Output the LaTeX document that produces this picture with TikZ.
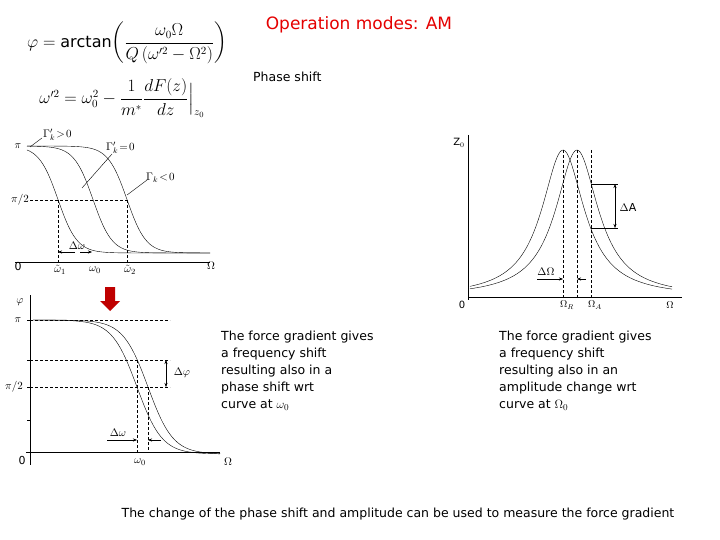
\documentclass[tikz,border=0pt]{standalone}
\usepackage{amsmath}
\usepackage{fontspec}
\setmainfont{DejaVu Sans}
\usetikzlibrary{arrows.meta}
\begin{document}
\begin{tikzpicture}[x=1pt,y=-1pt,
  txt/.style={font=\fontsize{12.5}{17}\selectfont,align=left,inner sep=0,anchor=north west},
  lbl/.style={font=\fontsize{11}{12}\selectfont,inner sep=1pt},
  dsh/.style={densely dashed,thin},
  crv/.style={thin,black},
  ar/.style={-{Stealth[length=4pt,width=3pt]},thin}]
\useasboundingbox[fill=white] (0,0) rectangle (720,540);
% title
\node[font=\fontsize{17}{20}\selectfont,text=red!90!black] (title) at (359,25) {Operation modes: AM};
\node[txt,anchor=west] (ps) at (253,77) {Phase shift};
% formulas
\node[font=\fontsize{16}{19}\selectfont,inner sep=0] (f1) at (127,43) {$\varphi=\arctan\!\left(\dfrac{\omega_0\Omega}{Q\left(\omega'^2-\Omega^2\right)}\right)$};
\node[font=\fontsize{16}{19}\selectfont,inner sep=0] (f2) at (122,98) {$\omega'^2=\omega_0^2-\dfrac{1}{m^*}\dfrac{dF(z)}{dz}\Big|_{z_0}$};
% ---- top-left plot
\draw[thin] (15,262) -- (210,262);
\foreach \c in {58,93,127}
  \draw[crv,domain=27:210,samples=80] plot (\x,{146+107*(0.5+0.5*tanh((\x-\c)/19))});
\draw[dsh] (30,200) -- (127,200);
\draw[dsh] (58,200) -- (58,262);
\draw[dsh] (127,200) -- (127,262);
\draw[ar] (75,252) -- (58,252);
\draw[ar] (80,252) -- (92,252);
\node[lbl] (pi1) at (18,146) {$\pi$};
\node[lbl] (pih1) at (20,200) {$\pi/2$};
\node[lbl] (z1) at (18,266) {0};
\node[lbl] (w1) at (60,270) {$\tilde\omega_1$};
\node[lbl] (w0) at (95,270) {$\omega_0$};
\node[lbl] (w2) at (130,270) {$\tilde\omega_2$};
\node[lbl] (Om1) at (211,266) {$\Omega$};
\node[lbl] (dw1) at (77,246) {$\Delta\omega$};
\node[lbl,anchor=west] (g1) at (42,135) {$\Gamma'_k\!>\!0$};
\node[lbl,anchor=west] (g2) at (105,148) {$\Gamma'_k\!=\!0$};
\node[lbl,anchor=west] (g3) at (145,178) {$\Gamma_k\!<\!0$};
\draw[thin] (42,138) -- (30,147);
\draw[thin] (112,154) -- (82,188);
\draw[thin] (147,180) -- (127,195);
% red arrow
\fill[red!75!black] (105,287) -- (115,287) -- (115,301) -- (120,301) -- (110,311) -- (100,301) -- (105,301) -- cycle;
% ---- bottom-left plot
\draw[thin] (30,295) -- (30,465);
\draw[thin] (26,452) -- (220,452);
\foreach \t in {320,360,387,420} \draw[thin] (27,\t) -- (30,\t);
\foreach \c in {137,148}
  \draw[crv,domain=33:220,samples=80] plot (\x,{320+134*(0.5+0.5*tanh((\x-\c)/25))});
\draw[dsh] (30,320) -- (170,320);
\draw[dsh] (30,360) -- (170,360);
\draw[dsh] (30,387) -- (170,387);
\draw[dsh] (137,360) -- (137,452);
\draw[dsh] (148,387) -- (148,452);
\draw[{Stealth[length=4pt,width=3pt]}-{Stealth[length=4pt,width=3pt]},thin] (166,360) -- (166,387);
\draw[ar] (107,440) -- (137,440);
\draw[ar] (161,440) -- (148,440);
\node[lbl] (phi2) at (20,302) {$\varphi$};
\node[lbl] (pi2) at (18,320) {$\pi$};
\node[lbl] (pih2) at (14,387) {$\pi/2$};
\node[lbl] (z2) at (22,460) {0};
\node[lbl] (w02) at (140,462) {$\omega_0$};
\node[lbl] (Om2) at (228,462) {$\Omega$};
\node[lbl] (dphi) at (182,373) {$\Delta\varphi$};
\node[lbl] (dw2) at (118,433) {$\Delta\omega$};
% ---- right plot
\draw[thin] (468,135) -- (468,300);
\draw[thin] (468,297) -- (682,297);
\foreach \c in {563,577}
  \draw[crv,domain=470:672,samples=120] plot (\x,{297-147/(1+((\x-\c)/26)^2)});
\draw[dsh] (563,150) -- (563,297);
\draw[dsh] (577,150) -- (577,297);
\draw[dsh] (591,150) -- (591,297);
\draw[thin] (591,184) -- (618,184);
\draw[thin] (591,228) -- (618,228);
\draw[{Stealth[length=4pt,width=3pt]}-{Stealth[length=4pt,width=3pt]},thin] (615,184) -- (615,228);
\draw[ar] (537,279) -- (563,279);
\draw[ar] (586,279) -- (577,279);
\node[lbl,font=\fontsize{10}{12}\selectfont] (Z0) at (459,143) {Z$_0$};
\node[lbl,font=\fontsize{10}{12}\selectfont] (z3) at (462,305) {0};
\node[lbl,font=\fontsize{10}{12}\selectfont] (OR) at (567,305) {$\Omega_R$};
\node[lbl,font=\fontsize{10}{12}\selectfont] (OA) at (595,305) {$\Omega_A$};
\node[lbl,font=\fontsize{10}{12}\selectfont] (O3) at (670,305) {$\Omega$};
\node[lbl,font=\fontsize{11}{12}\selectfont] (dA) at (628,207) {$\Delta$A};
\node[lbl,font=\fontsize{11}{12}\selectfont] (dO) at (546,272) {$\Delta\Omega$};
% ---- texts
\node[txt] (t1) at (221,331) {The force gradient gives\\a frequency shift\\resulting also in a\\phase shift wrt\\curve at $\omega_0$};
\node[txt] (t2) at (499,331) {The force gradient gives\\a frequency shift\\resulting also in an\\amplitude change wrt\\curve at $\Omega_0$};
\node[txt,anchor=center] (bt) at (398,514) {The change of the phase shift and amplitude can be used to measure the force gradient};
\end{tikzpicture}
\end{document}
